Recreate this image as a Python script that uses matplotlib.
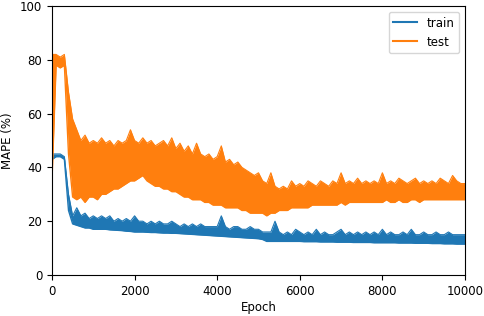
import numpy as np
import matplotlib
matplotlib.use("Agg")
import matplotlib.pyplot as plt

# epochs sampled every 100 (x positions of the envelope readings)
epochs = np.arange(0, 10001, 100)

# test MAPE band (upper / lower edge)
test_high = [82, 82, 81, 82, 68, 58, 54, 50, 52, 49,
             50, 49, 51, 49, 50, 48, 50, 49, 50, 54,
             50, 49, 51, 49, 50, 48, 49, 50, 48, 51,
             47, 49, 46, 48, 45, 49, 45, 44, 45, 43,
             44, 48, 42, 43, 41, 42, 40, 39, 38, 37,
             38, 35, 34, 38, 33, 32, 33, 32, 35, 33,
             34, 33, 35, 34, 33, 35, 34, 33, 35, 34,
             38, 34, 35, 34, 36, 34, 35, 34, 35, 34,
             38, 34, 35, 34, 36, 35, 34, 35, 36, 34,
             35, 34, 35, 34, 36, 35, 34, 37, 35, 34,
             34]
test_low = [35, 78, 77, 78, 45, 29, 28, 29, 27, 29,
            29, 28, 30, 30, 31, 32, 32, 33, 34, 35,
            35, 36, 37, 35, 34, 33, 33, 32, 32, 31,
            31, 30, 29, 29, 28, 28, 28, 27, 27, 26,
            26, 26, 25, 25, 25, 25, 24, 24, 23, 23,
            23, 23, 22, 23, 23, 24, 24, 24, 25, 25,
            25, 25, 25, 26, 26, 26, 26, 26, 26, 26,
            27, 26, 27, 27, 27, 27, 27, 27, 27, 27,
            27, 28, 27, 27, 28, 27, 27, 28, 28, 27,
            28, 28, 28, 28, 28, 28, 28, 28, 28, 28,
            28]

# train MAPE band
train_high = [45, 45, 45, 44, 30, 22, 25, 22, 23, 21,
              22, 21, 22, 21, 22, 20, 21, 20, 21, 20,
              22, 20, 20, 19, 20, 19, 20, 19, 19, 20,
              19, 18, 19, 18, 19, 18, 19, 18, 18, 18,
              18, 22, 18, 17, 18, 18, 17, 17, 18, 17,
              17, 16, 16, 16, 20, 16, 15, 16, 15, 17,
              16, 15, 16, 15, 17, 15, 16, 15, 15, 16,
              17, 15, 16, 15, 16, 15, 16, 15, 16, 15,
              17, 15, 16, 15, 15, 16, 15, 17, 15, 15,
              16, 15, 15, 16, 15, 15, 16, 15, 15, 15,
              15]
train_low = [43, 44, 44, 43, 24, 19, 18.5, 18, 17.5, 17.5,
             17, 17, 17, 17, 16.8, 16.7, 16.6, 16.5, 16.3, 16.2,
             16, 16, 16, 15.9, 15.8, 15.8, 15.7, 15.6, 15.6, 15.5,
             15.5, 15.4, 15.3, 15.2, 15.1, 15, 14.9, 14.8, 14.7, 14.6,
             14.5, 14.4, 14.3, 14.2, 14.1, 14, 13.9, 13.8, 13.7, 13.6,
             13.5, 13.2, 12.5, 12.5, 12.5, 12.5, 12.5, 12.5, 12.5, 12.5,
             12.5, 12.4, 12.4, 12.4, 12.4, 12.3, 12.3, 12.3, 12.3, 12.2,
             12.2, 12.2, 12.2, 12.1, 12.1, 12.1, 12.1, 12.1, 12, 12,
             12, 12, 12, 12, 11.9, 11.9, 11.9, 11.9, 11.8, 11.8,
             11.8, 11.8, 11.7, 11.7, 11.7, 11.6, 11.6, 11.6, 11.5, 11.5,
             11.5]

train_color = "#1f77b4"
test_color = "#ff7f0e"

plt.rcParams["font.family"] = "DejaVu Sans"
plt.rcParams["font.size"] = 8.5

fig = plt.figure(figsize=(4.84, 3.16), dpi=100)
ax = fig.add_axes([0.1074, 0.1297, 0.8533, 0.8513])

# noisy training curves drawn as their min/max band
ax.fill_between(epochs, train_low, train_high, color=train_color, lw=0)
ax.plot(epochs, train_low, color=train_color, lw=1.0, label="train")
ax.plot(epochs, train_high, color=train_color, lw=0.8)

ax.fill_between(epochs, test_low, test_high, color=test_color, lw=0)
ax.plot(epochs, test_low, color=test_color, lw=1.0, label="test")
ax.plot(epochs, test_high, color=test_color, lw=0.8)

ax.set_xlim(0, 10000)
ax.set_ylim(0, 100)
ax.set_xticks([0, 2000, 4000, 6000, 8000, 10000])
ax.set_yticks([0, 20, 40, 60, 80, 100])
ax.set_xlabel("Epoch", labelpad=2)
ax.set_ylabel("MAPE (%)", labelpad=4)
leg = ax.legend(loc="upper right", handlelength=2.0, frameon=True)
for line in leg.get_lines():
    line.set_linewidth(1.5)

fig.savefig("out.png", dpi=100)
